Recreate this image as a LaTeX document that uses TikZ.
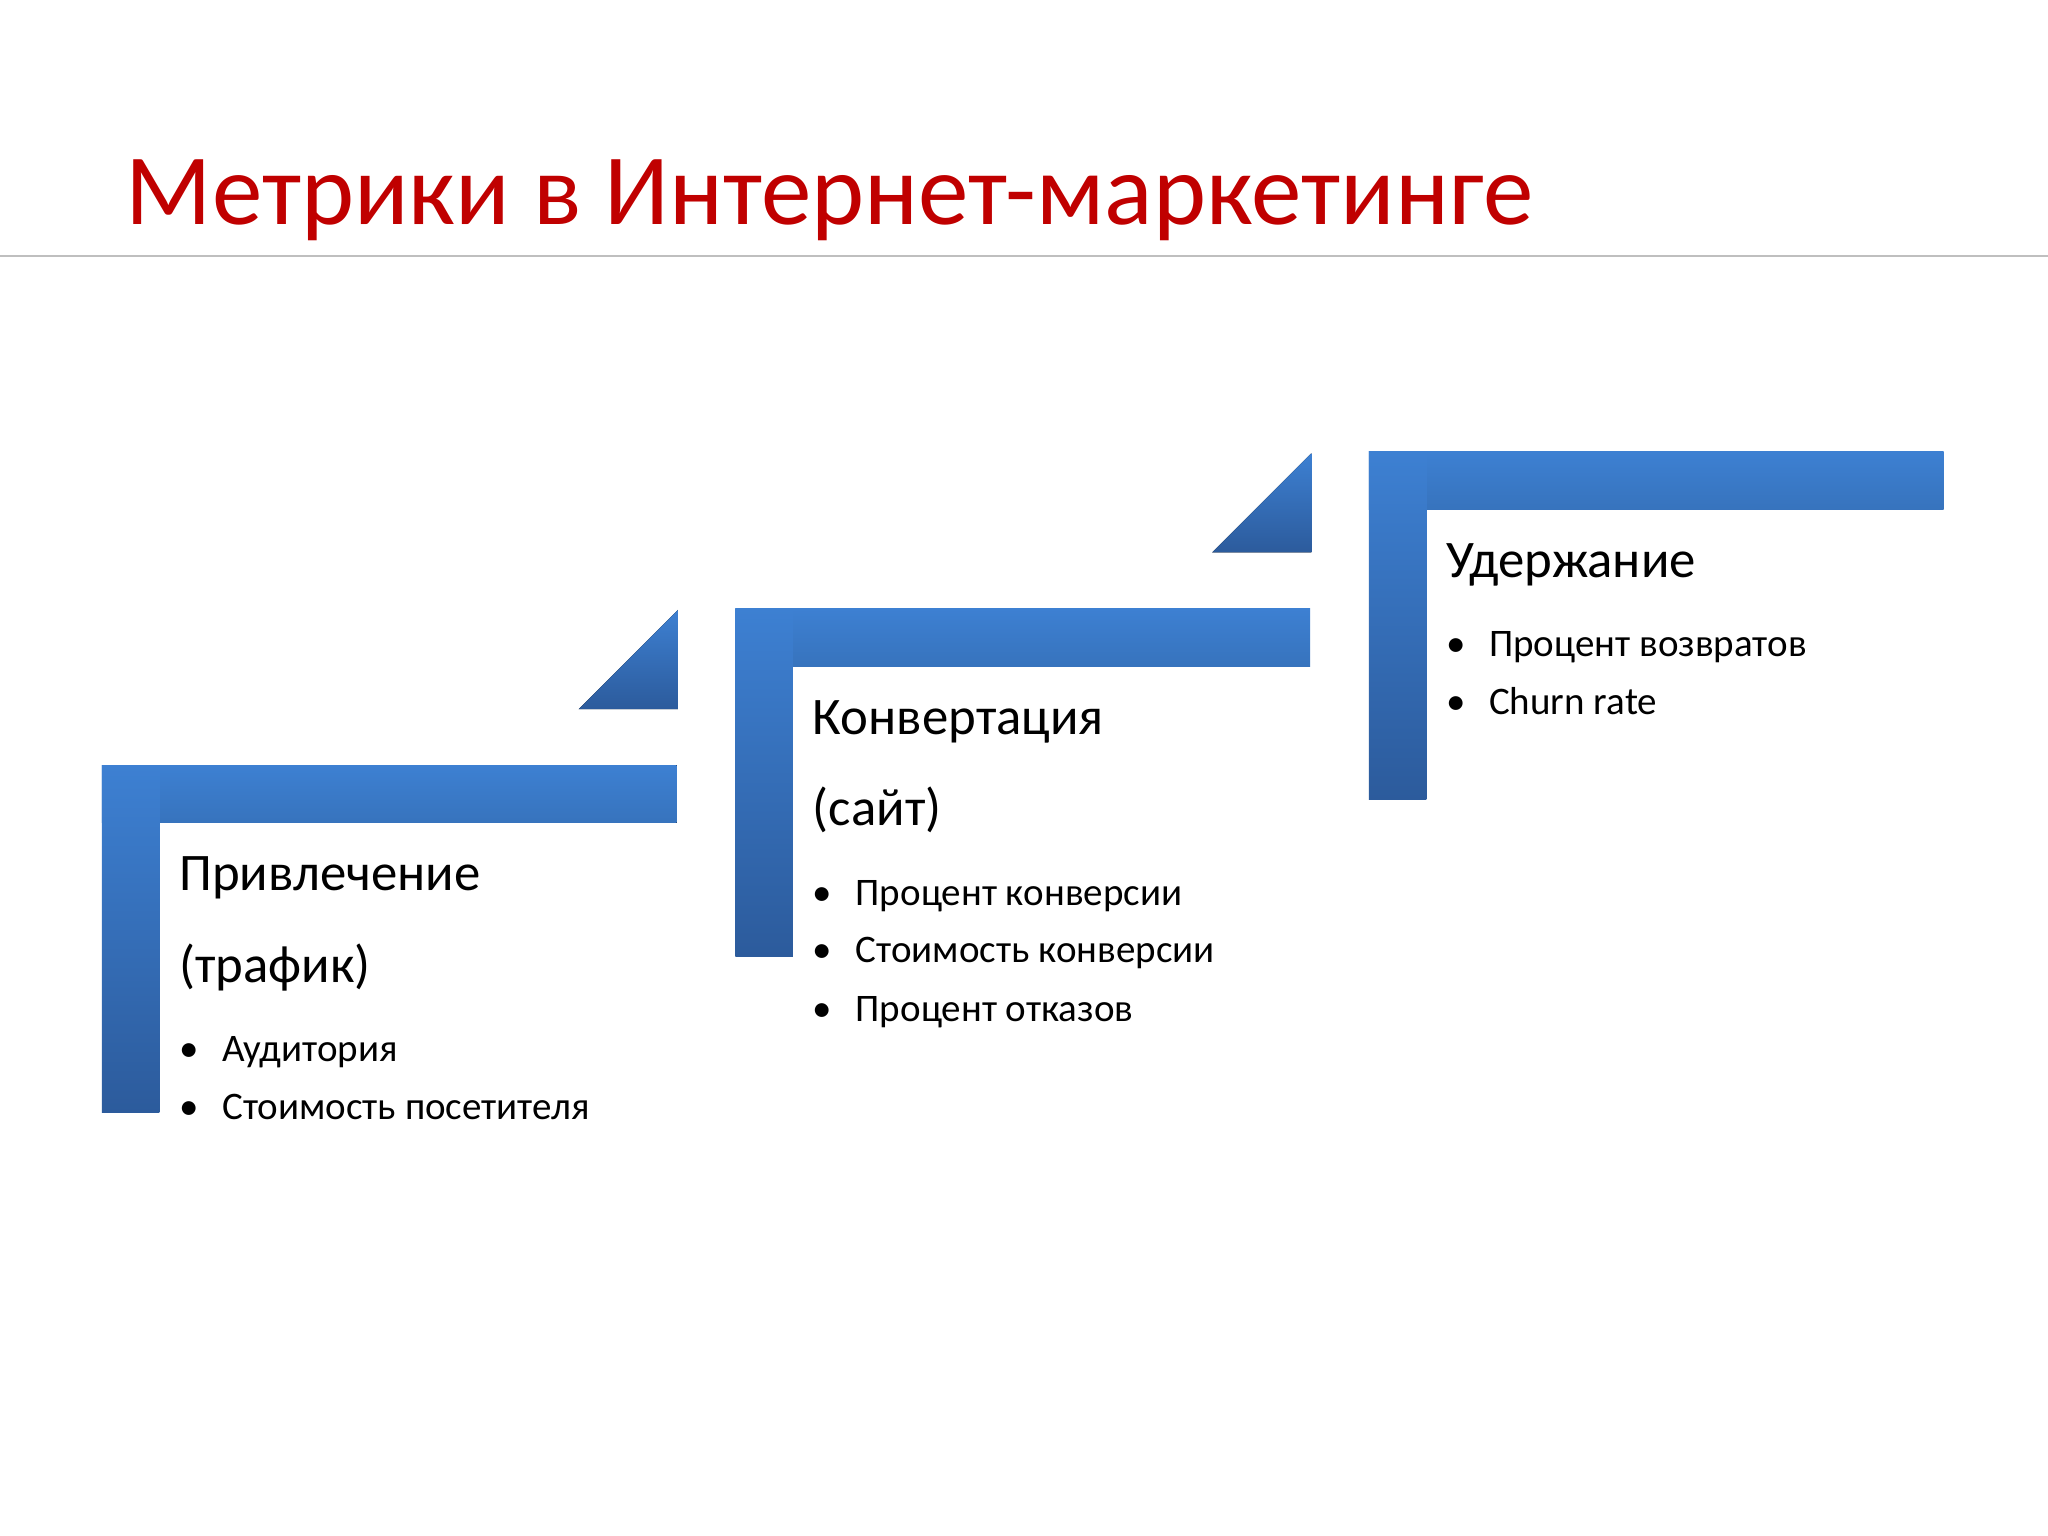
\documentclass[tikz,border=0pt]{standalone}
\usepackage{fontspec}
\setmainfont{Carlito}
\begin{document}
\begin{tikzpicture}[x=0.02cm,y=-0.02cm,
  bar/.style={top color=blue1,bottom color=blue2,draw=none},
  head/.style={anchor=base west,font=\fontsize{23}{26}\selectfont,inner sep=0},
  item/.style={anchor=base west,font=\fontsize{17}{20}\selectfont,inner sep=0}]
\definecolor{blue1}{HTML}{3D80D2}
\definecolor{blue2}{HTML}{2C5B9C}
\definecolor{tred}{HTML}{C00000}
\useasboundingbox (0,0) rectangle (1568,1176);
\fill[white] (0,0) rectangle (1568,1176);
\node[anchor=base west,inner sep=0,text=tred,font=\fontsize{44}{50}\selectfont] (title) at (96,172) {Метрики в Интернет-маркетинге};
\draw[gray!50,line width=1pt] (0,196) -- (1568,196);
% blocks
\foreach \dx/\dy [count=\i] in {0/0,485/-120,970/-240}{
  \fill[top color=blue1,bottom color=blue1!90!black] (78+\dx,586+\dy) rectangle (518+\dx,630+\dy);
  \fill[bar] (78+\dx,586+\dy) rectangle (122+\dx,852+\dy);
}
\fill[top color=blue1,bottom color=blue2] (443,543) -- (519,543) -- (519,467) -- cycle;
\fill[top color=blue1,bottom color=blue2] (928,423) -- (1004,423) -- (1004,347) -- cycle;
% texts
\node[head] (h1) at (137,682) {Привлечение};
\node[head] (h1b) at (137,752) {(трафик)};
\node[item] (a1) at (137,813) {•\hspace{0.6em}Аудитория};
\node[item] (a2) at (137,857) {•\hspace{0.6em}Стоимость посетителя};
\node[head] (h2) at (622,562) {Конвертация};
\node[head] (h2b) at (622,632) {(сайт)};
\node[item] (b1) at (622,693) {•\hspace{0.6em}Процент конверсии};
\node[item] (b2) at (622,737) {•\hspace{0.6em}Стоимость конверсии};
\node[item] (b3) at (622,782) {•\hspace{0.6em}Процент отказов};
\node[head] (h3) at (1107,442) {Удержание};
\node[item] (c1) at (1107,503) {•\hspace{0.6em}Процент возвратов};
\node[item] (c2) at (1107,547) {•\hspace{0.6em}Churn rate};
\end{tikzpicture}
\end{document}
